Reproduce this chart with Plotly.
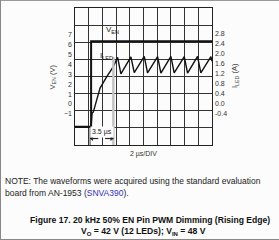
import plotly.graph_objects as go

# ---- data ----
t_en = [0.0, 2.35, 2.35, 20.0]            # time, us
v_en = [-2.29, -2.29, 6.34, 6.34]        # V_EN, V

t_led = [0.0, 2.35, 2.49, 2.68, 3.17, 3.66, 4.64, 5.60, 6.22, 6.70, 8.16, 8.65,
         10.11, 10.59, 12.06, 12.54, 14.00, 14.48, 15.95, 16.43, 17.89, 18.37, 19.84, 20.0]
i_led = [-0.91, -0.91, -0.37, -0.32, 0.16, 0.63, 1.09, 1.49, 1.86, 1.20, 1.88, 1.25,
         1.90, 1.24, 1.89, 1.23, 1.90, 1.24, 1.89, 1.23, 1.90, 1.24, 1.89, 1.70]

v_ticks = [7, 6, 5, 4, 3, 2, 1, 0, -1]
i_ticks = [2.8, 2.4, 2.0, 1.6, 1.2, 0.8, 0.4, 0.0, -0.4]
i_ticktext = ["2.8", "2.4", "2.0", "1.6", "1.2", "0.8", "0.4", "0.0", "-0.4"]

edge_t = 2.2
marker_t = 5.6

W, H = 279, 240
L, R, T, B = 75, 67, 8, 95
PW, PH = W - L - R, H - T - B

def px(x):
    return (x - L) / PW

def py(y):
    return (H - B - y) / PH

FONT = "Liberation Sans, Arial, sans-serif"

fig = go.Figure()
fig.add_trace(go.Scatter(x=t_en, y=v_en, mode="lines", yaxis="y",
                         line=dict(color="#111", width=2), showlegend=False, hoverinfo="skip"))
fig.add_trace(go.Scatter(x=t_led, y=i_led, mode="lines", yaxis="y2",
                         line=dict(color="#111", width=1.4), showlegend=False, hoverinfo="skip"))

fig.update_layout(
    width=W, height=H,
    margin=dict(l=L, r=R, t=T, b=B, pad=0),
    paper_bgcolor="#fcfcfc", plot_bgcolor="#fcfcfc",
    font=dict(family=FONT, color="#333"),
    xaxis=dict(range=[0, 20], tick0=0, dtick=2, showgrid=True, gridcolor="#333", gridwidth=1,
               showticklabels=False, ticks="", zeroline=False, showline=True,
               linecolor="#222", linewidth=1, mirror=True),
    yaxis=dict(range=[-4.14, 9.70], tickvals=v_ticks, showgrid=False, zeroline=False,
               showline=False, ticks="", tickfont=dict(size=7, color="#333"),
               ticklabelstandoff=2),
    yaxis2=dict(range=[-1.64, 3.83], tickvals=i_ticks, ticktext=i_ticktext, overlaying="y",
                side="right", showgrid=False, zeroline=False, showline=False, ticks="",
                tickfont=dict(size=7, color="#333"), ticklabelstandoff=2),
    yaxis3=dict(range=[0, 8], dtick=1, tick0=0, overlaying="y", showgrid=True,
                gridcolor="#333", gridwidth=1, showticklabels=False, zeroline=False,
                showline=True, linecolor="#222", mirror=True, ticks=""),
)
# dummy trace to activate grid axis
fig.add_trace(go.Scatter(x=[None], y=[None], yaxis="y3", showlegend=False, hoverinfo="skip"))

ya = py(138.5)
ah_w = 2.6 / PW * 20      # arrowhead length in us
ah_h = 2.0 / PH           # arrowhead half height in paper
shapes = [
    dict(type="line", xref="x", yref="paper", x0=marker_t, x1=marker_t, y0=0, y1=py(57),
         line=dict(color="#c4c4c4", width=2.5), layer="above"),
    dict(type="line", xref="x", yref="paper", x0=edge_t, x1=edge_t, y0=0, y1=py(127),
         line=dict(color="#444", width=1), layer="above"),
    # dimension line segments
    dict(type="line", xref="x", yref="paper", x0=edge_t, x1=edge_t + 1.2, y0=ya, y1=ya,
         line=dict(color="#222", width=1.2), layer="above"),
    dict(type="line", xref="x", yref="paper", x0=marker_t - 1.2, x1=marker_t, y0=ya, y1=ya,
         line=dict(color="#222", width=1.2), layer="above"),
    dict(type="path", xref="x", yref="paper", layer="above", fillcolor="#222",
         line=dict(color="#222", width=0.5),
         path=f"M {edge_t} {ya} L {edge_t + ah_w} {ya + ah_h} L {edge_t + ah_w} {ya - ah_h} Z"),
    dict(type="path", xref="x", yref="paper", layer="above", fillcolor="#222",
         line=dict(color="#222", width=0.5),
         path=f"M {marker_t} {ya} L {marker_t - ah_w} {ya + ah_h} L {marker_t - ah_w} {ya - ah_h} Z"),
    # outer figure frame
    dict(type="line", xref="paper", yref="paper", x0=px(0), x1=px(W), y0=py(0.5), y1=py(0.5),
         line=dict(color="#999", width=1)),
    dict(type="line", xref="paper", yref="paper", x0=px(0.5), x1=px(0.5), y0=py(0), y1=py(H),
         line=dict(color="#888", width=1)),
    dict(type="line", xref="paper", yref="paper", x0=px(0), x1=px(W), y0=py(239.5), y1=py(239.5),
         line=dict(color="#888", width=1)),
]
fig.update_layout(shapes=shapes)


def txt(text, x, y, size, color="#222", xref="paper", xanchor="center", **kw):
    d = dict(text=text, x=x, y=y, xref=xref, yref="paper", xanchor=xanchor, yanchor="middle",
             showarrow=False, font=dict(size=size, color=color, family=FONT))
    d.update(kw)
    return d


ann = []
ann.append(txt("V<sub>EN</sub> (V)", px(52.5), py(77), 7.5, "#444", textangle=-90))
ann.append(txt("I<sub>LED</sub> (A)", px(235), py(76), 7.5, "#444", textangle=-90))
ann.append(txt("V<sub>EN</sub>", 5.41, py(30), 8, xref="x"))
ann.append(txt("I<sub>LED</sub>", 4.6, py(56), 8, xref="x"))
ann.append(txt("3.5 µs", (edge_t + marker_t) / 2, py(131.5), 7, xref="x", bgcolor="#fcfcfc"))
ann.append(txt("2 µs/DIV", px(143), py(153.5), 7, "#333"))
ann.append(txt("NOTE: The waveforms were acquired using the standard evaluation",
               px(3), py(181), 8.5, xanchor="left"))
ann.append(txt("board from AN-1953 (<span style='color:#3030c0'>SNVA390</span>).",
               px(3), py(193), 8.5, xanchor="left"))
ann.append(txt("<b>Figure 17. 20 kHz 50% EN Pin PWM Dimming (Rising Edge)</b>",
               px(150), py(220), 8.6, "#111"))
ann.append(txt("<b>V<sub>O</sub> = 42 V (12 LEDs); V<sub>IN</sub> = 48 V</b>",
               px(143), py(231), 8.6, "#111"))
fig.update_layout(annotations=ann)

fig.write_html("out.html")
